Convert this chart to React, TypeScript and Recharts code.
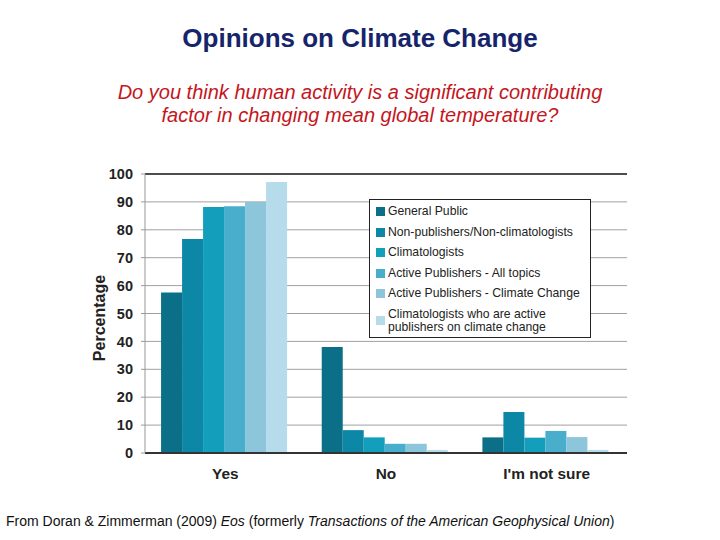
import { BarChart, Bar, XAxis, YAxis, CartesianGrid, ReferenceLine } from 'recharts';

const categories = ['Yes', 'No', "I'm not sure"];

const seriesNames = [
  'General Public',
  'Non-publishers/Non-climatologists',
  'Climatologists',
  'Active Publishers - All topics',
  'Active Publishers - Climate Change',
  'Climatologists who are active publishers on climate change',
];

const seriesColors = ['#0b6f88', '#0c87a5', '#139fbb', '#48aecb', '#8dc5da', '#b6dbea'];

const generalPublic = [57.5, 38, 5.6];
const nonPublishers = [76.7, 8.2, 14.7];
const climatologists = [88.2, 5.6, 5.5];
const activeAll = [88.4, 3.3, 7.9];
const activeClimate = [90, 3.3, 5.7];
const activeClimatologists = [97.1, 1.1, 1.1];

const seriesValues = [generalPublic, nonPublishers, climatologists, activeAll, activeClimate, activeClimatologists];

const yTicks = [0, 10, 20, 30, 40, 50, 60, 70, 80, 90, 100];

const data = categories.map((name, i) => {
  const row: Record<string, string | number> = { name };
  seriesValues.forEach((vals, s) => {
    row[`s${s}`] = vals[i];
  });
  return row;
});

const font = '"Liberation Sans", Arial, sans-serif';

function LegendBox() {
  return (
    <div
      style={{
        position: 'absolute',
        left: 369,
        top: 199,
        background: '#fff',
        border: '1.5px solid #222',
        width: 222,
        height: 139,
        padding: '3px 0 0 6px',
        fontFamily: font,
        fontSize: 12.2,
        color: '#222',
        lineHeight: '13px',
        boxSizing: 'border-box',
      }}
    >
      {seriesNames.map((n, i) => (
        <div key={n} style={{ display: 'flex', alignItems: 'center', marginTop: i === 0 ? 2 : 7.5 }}>
          <span style={{ width: 9, height: 9, background: seriesColors[i], marginRight: 3, flexShrink: 0 }} />
          <span style={{ width: i === 5 ? 185 : 'auto' }}>{n}</span>
        </div>
      ))}
    </div>
  );
}

export default function App() {
  return (
    <div style={{ position: 'absolute', left: 0, top: 0, width: 720, height: 540, background: '#fff', fontFamily: font }}>
      <div style={{ position: 'absolute', top: 23, width: 720, textAlign: 'center', fontSize: 26, fontWeight: 'bold', color: '#16256b' }}>
        Opinions on Climate Change
      </div>
      <div
        style={{
          position: 'absolute',
          top: 81,
          width: 720,
          textAlign: 'center',
          fontSize: 20,
          fontStyle: 'italic',
          color: '#c4161c',
          lineHeight: '23px',
        }}
      >
        Do you think human activity is a significant contributing
        <br />
        factor in changing mean global temperature?
      </div>
      <div style={{ position: 'absolute', top: 0, left: 0 }}>
        <BarChart
          width={720}
          height={540}
          data={data}
          margin={{ top: 174, right: 93, bottom: 57, left: 95 }}
          barCategoryGap="10%"
          barGap={0}
        >
          <CartesianGrid vertical={false} stroke="#a0a0a0" strokeWidth={1} />
          <XAxis
            dataKey="name"
            axisLine={{ stroke: '#333', strokeWidth: 2 }}
            tickLine={false}
            tick={{ fill: '#222', fontSize: 15.4, fontWeight: 'bold', fontFamily: font }}
            height={30}
            tickMargin={9}
          />
          <YAxis
            domain={[0, 100]}
            ticks={yTicks}
            interval={0}
            width={50}
            axisLine={{ stroke: '#999' }}
            tickLine={{ stroke: '#999' }}
            tickSize={4}
            tickMargin={8}
            tick={{ fill: '#222', fontSize: 14.5, fontWeight: 'bold', fontFamily: font }}
          />
          <YAxis yAxisId="right" orientation="right" width={0} tick={false} tickLine={false} axisLine={{ stroke: '#999' }} />
          <ReferenceLine y={100} stroke="#222" strokeWidth={1.5} />
          {seriesNames.map((n, i) => (
            <Bar key={n} dataKey={`s${i}`} name={n} fill={seriesColors[i]} isAnimationActive={false} />
          ))}
        </BarChart>
      </div>
      <div
        style={{
          position: 'absolute',
          left: 100,
          top: 318,
          transform: 'translate(-50%, -50%) rotate(-90deg)',
          fontSize: 16,
          fontWeight: 'bold',
          color: '#222',
          whiteSpace: 'nowrap',
        }}
      >
        Percentage
      </div>
      <LegendBox />
      <div style={{ position: 'absolute', top: 513, left: 6, fontSize: 14, color: '#111' }}>
        From Doran &amp; Zimmerman (2009) <i>Eos</i> (formerly <i>Transactions of the American Geophysical Union</i>)
      </div>
    </div>
  );
}
